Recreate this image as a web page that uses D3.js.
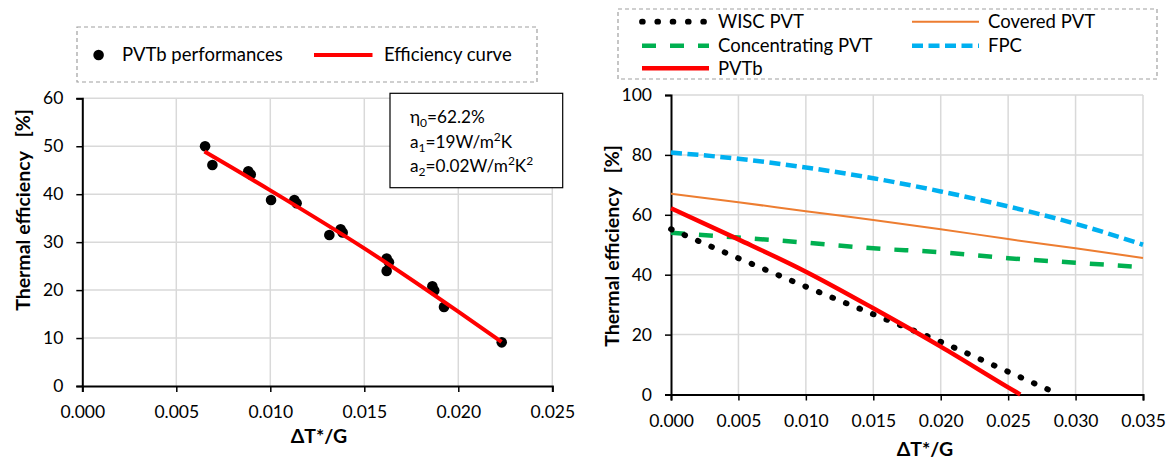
<!DOCTYPE html>
<html lang="en">
  <head>
    <meta charset="UTF-8" />
    <title>Thermal efficiency</title>
    <script src="https://d3js.org/d3.v7.min.js"></script>
    <style>
      body {
        margin: 0;
        background: #ffffff;
      }
      svg {
        display: block;
        font-family: Lato, "Open Sans", sans-serif;
      }
      .grid line {
        stroke: #d9d9d9;
        stroke-width: 1.5px;
      }
      .tick-label {
        font-size: 17.5px;
        fill: #000;
      }
      .axis-title {
        font-size: 19.5px;
        font-weight: bold;
        white-space: pre;
      }
      .legend-text {
        font-size: 18.5px;
      }
      .note {
        font-size: 17.2px;
      }
    </style>
  </head>
  <body>
    <svg id="chart" width="1170" height="459"></svg>
  </body>
  <script>
    // left chart: measured points
    const pointX = [0.00653, 0.00692, 0.00883, 0.00896, 0.01004, 0.01128, 0.0114,
      0.01314, 0.01374, 0.01385, 0.01619, 0.01631, 0.01619, 0.01862, 0.01872, 0.01924, 0.02231];
    const pointY = [50.0, 46.1, 44.8, 44.1, 38.8, 38.8, 38.1,
      31.5, 32.7, 32.0, 26.6, 25.8, 24.0, 20.8, 19.9, 16.5, 9.1];
    // efficiency curve
    const fitX = [0.0065, 0.010, 0.015, 0.020, 0.0223];
    const fitY = [48.9, 40.8, 28.7, 15.5, 9.2];

    const leftXTicks = [0, 0.005, 0.01, 0.015, 0.02, 0.025];
    const leftYTicks = [0, 10, 20, 30, 40, 50, 60];

    // right chart: comparison
    const gridX = [0, 0.005, 0.010, 0.015, 0.020, 0.025, 0.030, 0.035];
    const fpc = [80.8, 78.7, 75.8, 72.2, 67.8, 62.8, 57.0, 50.0];
    const covered = [67.0, 64.2, 61.2, 58.3, 55.2, 51.9, 48.8, 45.6];
    const concentrating = [54.0, 52.4, 50.7, 48.8, 47.5, 45.5, 44.0, 42.5];
    const wiscX = [0, 0.005, 0.010, 0.015, 0.020, 0.025, 0.0288];
    const wisc = [55.2, 45.5, 36.0, 26.8, 17.6, 7.6, 0];
    const pvtbX = [0, 0.005, 0.010, 0.015, 0.020, 0.025, 0.0259];
    const pvtb = [62.2, 51.8, 41.0, 28.8, 16.0, 2.4, 0];

    const rightXTicks = [0, 0.005, 0.01, 0.015, 0.02, 0.025, 0.03, 0.035];
    const rightYTicks = [0, 20, 40, 60, 80, 100];

    const svg = d3.select("#chart");

    const styles = {
      wisc: { color: "#000", width: 5.8, dash: "0.8 13.8", cap: "round" },
      covered: { color: "#ED7D31", width: 2, dash: null, cap: "butt" },
      conc: { color: "#00B050", width: 4.5, dash: "14 14", cap: "butt" },
      fpc: { color: "#00B0F0", width: 4.5, dash: "11 5.5", cap: "butt" },
      pvtb: { color: "#FF0000", width: 4.5, dash: null, cap: "butt" },
    };

    function frame(g, x, y, xTicks, yTicks) {
      const grid = g.append("g").attr("class", "grid");
      grid.selectAll(".gx").data(xTicks.slice(1)).join("line")
        .attr("x1", (d) => x(d)).attr("x2", (d) => x(d))
        .attr("y1", y.range()[0]).attr("y2", y.range()[1]);
      grid.selectAll(".gy").data(yTicks.slice(1)).join("line")
        .attr("x1", x.range()[0]).attr("x2", x.range()[1])
        .attr("y1", (d) => y(d)).attr("y2", (d) => y(d));

      const xAxis = g.append("g")
        .attr("transform", `translate(0,${y.range()[0]})`)
        .call(d3.axisBottom(x).tickValues(xTicks).tickFormat(d3.format(".3f")).tickSize(6).tickPadding(14));
      const yAxis = g.append("g")
        .attr("transform", `translate(${x.range()[0]},0)`)
        .call(d3.axisLeft(y).tickValues(yTicks).tickSize(6).tickPadding(13));
      [xAxis, yAxis].forEach((a) => {
        a.attr("font-family", null).attr("font-size", null);
        a.select(".domain").attr("stroke", "#000").attr("stroke-width", 2);
        a.selectAll(".tick line").attr("stroke", "#000").attr("stroke-width", 1.5);
        a.selectAll(".tick text").attr("class", "tick-label");
      });
      xAxis.selectAll(".tick text").attr("dy", "0.71em");
    }

    // ---------------- left chart ----------------
    const xL = d3.scaleLinear().domain([0, 0.025]).range([82.3, 552.3]);
    const yL = d3.scaleLinear().domain([0, 60]).range([386, 98.3]);
    const left = svg.append("g");
    frame(left, xL, yL, leftXTicks, leftYTicks);

    const points = pointX.map((x, i) => ({ x, y: pointY[i] }));
    left.append("g").selectAll("circle").data(points).join("circle")
      .attr("cx", (d) => xL(d.x)).attr("cy", (d) => yL(d.y)).attr("r", 5.3).attr("fill", "#000");

    const fit = fitX.map((x, i) => ({ x, y: fitY[i] }));
    left.append("path").datum(fit)
      .attr("fill", "none").attr("stroke", "#FF0000").attr("stroke-width", 4)
      .attr("d", d3.line().x((d) => xL(d.x)).y((d) => yL(d.y)).curve(d3.curveMonotoneX));

    left.append("text").attr("class", "axis-title")
      .attr("transform", "translate(23,210) rotate(-90)")
      .attr("text-anchor", "middle").attr("dy", "0.35em")
      .text("Thermal efficiency   [%]");
    left.append("text").attr("class", "axis-title")
      .attr("x", 319).attr("y", 443).attr("text-anchor", "middle").text("ΔT*/G");

    // legend
    const legL = left.append("g");
    legL.append("rect").attr("x", 77).attr("y", 27).attr("width", 460).attr("height", 55)
      .attr("fill", "none").attr("stroke", "#a0a0a0").attr("stroke-width", 1.2).attr("stroke-dasharray", "4 3");
    legL.append("circle").attr("cx", 98.6).attr("cy", 55).attr("r", 5.3).attr("fill", "#000");
    legL.append("text").attr("class", "legend-text").attr("x", 122).attr("y", 55).attr("dy", "0.35em").text("PVTb performances");
    legL.append("line").attr("x1", 314).attr("x2", 372.5).attr("y1", 55).attr("y2", 55)
      .attr("stroke", "#FF0000").attr("stroke-width", 4);
    legL.append("text").attr("class", "legend-text").attr("x", 384).attr("y", 55).attr("dy", "0.35em").text("Efficiency curve");

    // coefficient box
    const note = left.append("g");
    note.append("rect").attr("x", 390).attr("y", 93.3).attr("width", 172.7).attr("height", 94.4)
      .attr("fill", "#fff").attr("stroke", "#000").attr("stroke-width", 1.2);
    // 0 = normal, 1 = subscript, 2 = superscript
    const noteLines = [
      [["η", 0], ["0", 1], ["=62.2%", 0]],
      [["a", 0], ["1", 1], ["=19W/m", 0], ["2", 2], ["K", 0]],
      [["a", 0], ["2", 1], ["=0.02W/m", 0], ["2", 2], ["K", 0], ["2", 2]],
    ];
    noteLines.forEach((parts, i) => {
      const t = note.append("text").attr("class", "note").attr("x", 410).attr("y", 123 + i * 24.6);
      let shift = 0;
      parts.forEach(([s, kind]) => {
        const want = kind === 1 ? 4 : kind === 2 ? -7 : 0;
        const span = t.append("tspan").text(s).attr("dy", want - shift);
        if (kind !== 0) span.attr("font-size", "12px");
        shift = want;
      });
    });

    // ---------------- right chart ----------------
    const xR = d3.scaleLinear().domain([0, 0.035]).range([671, 1143]);
    const yR = d3.scaleLinear().domain([0, 100]).range([394.5, 95]);
    const right = svg.append("g");
    frame(right, xR, yR, rightXTicks, rightYTicks);

    const series = [
      { key: "covered", xs: gridX, ys: covered },
      { key: "conc", xs: gridX, ys: concentrating },
      { key: "fpc", xs: gridX, ys: fpc },
      { key: "wisc", xs: wiscX, ys: wisc },
      { key: "pvtb", xs: pvtbX, ys: pvtb },
    ];
    const lineR = d3.line().x((d) => xR(d[0])).y((d) => yR(d[1])).curve(d3.curveMonotoneX);
    right.append("g").selectAll("path").data(series).join("path")
      .attr("fill", "none")
      .attr("stroke", (d) => styles[d.key].color)
      .attr("stroke-width", (d) => styles[d.key].width)
      .attr("stroke-dasharray", (d) => styles[d.key].dash)
      .attr("stroke-linecap", (d) => styles[d.key].cap)
      .attr("d", (d) => lineR(d.xs.map((x, i) => [x, d.ys[i]])));

    right.append("text").attr("class", "axis-title")
      .attr("transform", "translate(612,246) rotate(-90)")
      .attr("text-anchor", "middle").attr("dy", "0.35em")
      .text("Thermal efficiency   [%]");
    right.append("text").attr("class", "axis-title")
      .attr("x", 925).attr("y", 456).attr("text-anchor", "middle").text("ΔT*/G");

    // legend
    const legR = right.append("g");
    legR.append("rect").attr("x", 618).attr("y", 9).attr("width", 539).attr("height", 70)
      .attr("fill", "none").attr("stroke", "#a0a0a0").attr("stroke-width", 1.2).attr("stroke-dasharray", "4 3");
    const legendItems = [
      { key: "wisc", label: "WISC PVT", x: 642, y: 21.7 },
      { key: "covered", label: "Covered PVT", x: 912, y: 21.7 },
      { key: "conc", label: "Concentrating PVT", x: 642, y: 45.7 },
      { key: "fpc", label: "FPC", x: 912, y: 45.7 },
      { key: "pvtb", label: "PVTb", x: 642, y: 68.3 },
    ];
    const li = legR.selectAll("g").data(legendItems).join("g");
    li.append("line")
      .attr("x1", (d) => d.x).attr("x2", (d) => d.x + 67)
      .attr("y1", (d) => d.y).attr("y2", (d) => d.y)
      .attr("stroke", (d) => styles[d.key].color)
      .attr("stroke-width", (d) => styles[d.key].width)
      .attr("stroke-dasharray", (d) => (d.key === "wisc" ? "0.8 14.5" : styles[d.key].dash))
      .attr("stroke-linecap", (d) => styles[d.key].cap);
    li.append("text").attr("class", "legend-text")
      .attr("x", (d) => d.x + 76).attr("y", (d) => d.y).attr("dy", "0.35em")
      .text((d) => d.label);
  </script>
</html>
